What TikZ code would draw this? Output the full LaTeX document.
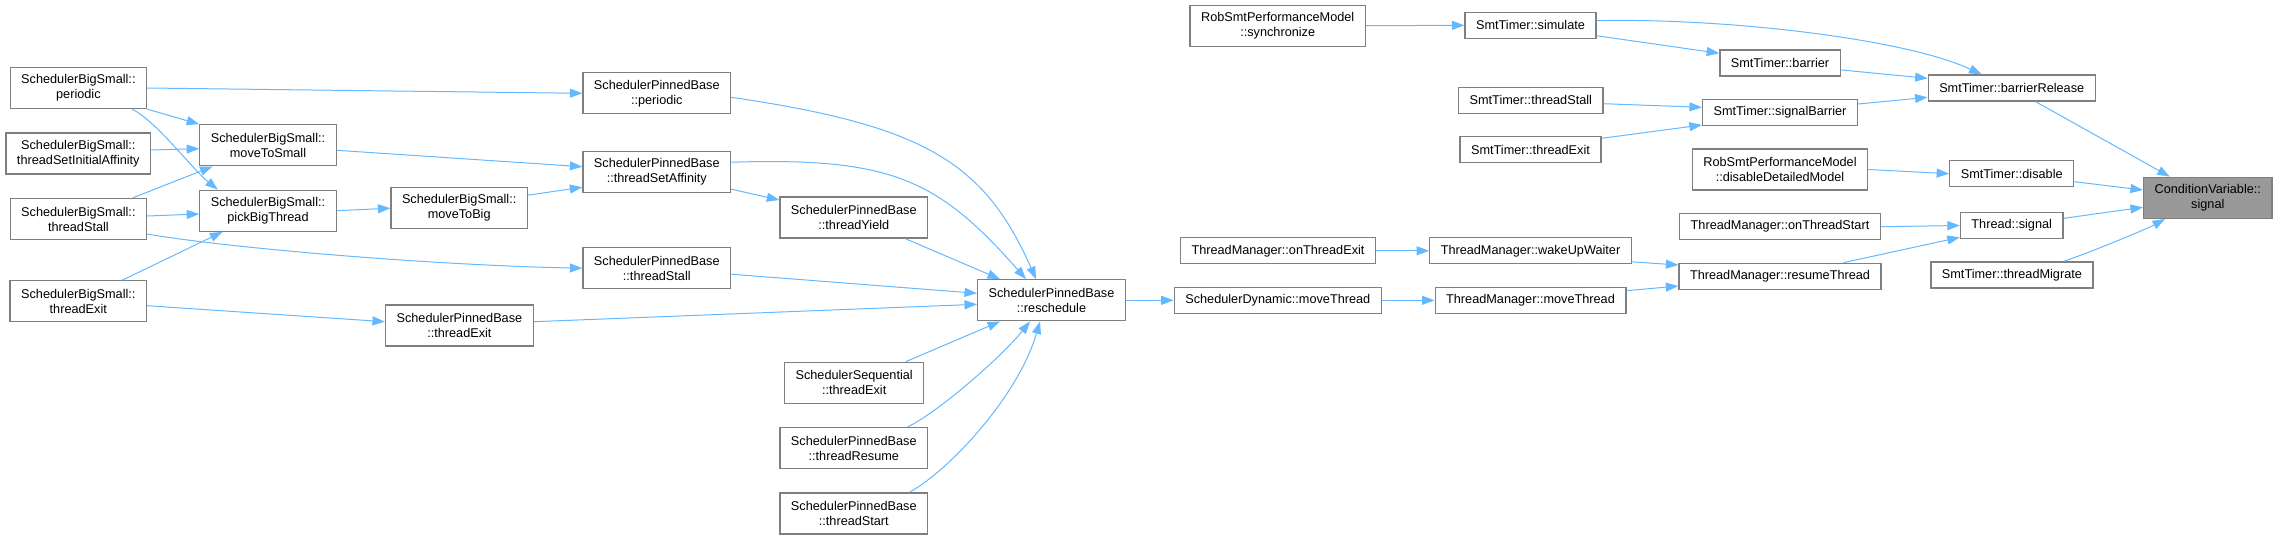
\documentclass[tikz,border=0pt]{standalone}
\usepackage{fontspec}
\setmainfont{Liberation Sans}
\usetikzlibrary{arrows.meta, positioning}
\definecolor{bordefn}{HTML}{7F7F7F}
\definecolor{flecha}{HTML}{63B8FF}
\definecolor{raizgris}{HTML}{999999}
\tikzset{
  func/.style={rectangle, draw=bordefn, line width=1.3pt, fill=white, minimum height=26pt,
               inner xsep=11pt, inner ysep=0pt, text centered, align=center,
               font=\fontsize{12.7}{15}\selectfont},
  funcdos/.style={func, minimum height=41pt},
  raiz/.style={funcdos, fill=raizgris},
  arrow/.style={line width=1pt, color=flecha, -{Triangle[length=12.5pt, width=9pt]}}
}
\begin{document}
\begin{tikzpicture}[x=1pt, y=-1pt]
  \useasboundingbox (0,0) rectangle (2277,539);
  % SchedulerBigSmall
  \node (bsper) [funcdos] at (78.4,88) {SchedulerBigSmall::\\periodic};
  \node (tsia) [funcdos] at (78.3,153.5) {SchedulerBigSmall::\\threadSetInitialAffinity};
  \node (bsts) [funcdos] at (78.4,219) {SchedulerBigSmall::\\threadStall};
  \node (bsex) [funcdos] at (78.3,301.3) {SchedulerBigSmall::\\threadExit};
  \node (m2s) [funcdos] at (268,145.3) {SchedulerBigSmall::\\moveToSmall};
  \node (pbt) [funcdos] at (268,210.7) {SchedulerBigSmall::\\pickBigThread};
  \node (m2b) [funcdos] at (459.2,208.2) {SchedulerBigSmall::\\moveToBig};
  % SchedulerPinnedBase
  \node (pbper) [funcdos] at (656.8,93.3) {SchedulerPinnedBase\\::periodic};
  \node (pbsa) [funcdos] at (656.8,172.2) {SchedulerPinnedBase\\::threadSetAffinity};
  \node (pbstall) [funcdos] at (656.8,268.2) {SchedulerPinnedBase\\::threadStall};
  \node (pbexit) [funcdos] at (459.4,325.5) {SchedulerPinnedBase\\::threadExit};
  \node (pbyield) [funcdos] at (853.8,217.5) {SchedulerPinnedBase\\::threadYield};
  \node (seqexit) [funcdos] at (854.2,382.8) {SchedulerSequential\\::threadExit};
  \node (pbresume) [funcdos] at (853.8,448.2) {SchedulerPinnedBase\\::threadResume};
  \node (pbstart) [funcdos] at (853.8,513.5) {SchedulerPinnedBase\\::threadStart};
  \node (resched) [funcdos] at (1051.5,300.3) {SchedulerPinnedBase\\::reschedule};
  % ThreadManager / SmtTimer
  \node (dynmove) [func] at (1277.8,300.3) {SchedulerDynamic::moveThread};
  \node (sync) [funcdos] at (1277.7,25.7) {RobSmtPerformanceModel\\::synchronize};
  \node (otexit) [func] at (1278,250.8) {ThreadManager::onThreadExit};
  \node (simulate) [func] at (1530.5,25.3) {SmtTimer::simulate};
  \node (tstall) [func] at (1530.8,100.3) {SmtTimer::threadStall};
  \node (texit) [func] at (1530.5,149.7) {SmtTimer::threadExit};
  \node (wake) [func] at (1530.5,250.8) {ThreadManager::wakeUpWaiter};
  \node (tmmove) [func] at (1530.5,300.3) {ThreadManager::moveThread};
  \node (barrier) [func] at (1780,62.9) {SmtTimer::barrier};
  \node (sigbar) [func] at (1780,112.3) {SmtTimer::signalBarrier};
  \node (ddm) [funcdos] at (1780,169.5) {RobSmtPerformanceModel\\::disableDetailedModel};
  \node (otstart) [func] at (1780,226.7) {ThreadManager::onThreadStart};
  \node (resume) [func] at (1780,276.3) {ThreadManager::resumeThread};
  \node (brel) [func] at (2011.7,88) {SmtTimer::barrierRelease};
  \node (disable) [func] at (2011.7,173.7) {SmtTimer::disable};
  \node (tsig) [func] at (2011.7,225.5) {Thread::signal};
  \node (migrate) [func] at (2011.9,275) {SmtTimer::threadMigrate};
  \node (cv) [raiz] at (2207.8,197.8) {ConditionVariable::\\signal};

  % left part
  \draw [arrow] (bsper.east) -- (pbper.west);
  \draw [arrow] (bsper.south east) -- (m2s.north west);
  \draw [arrow] ([xshift=-15pt]bsper.south east) .. controls +(25,13) and +(-25,-20) .. ([xshift=18.6pt]pbt.north west);
  \draw [arrow] ([yshift=3.5pt]tsia.east) -- ([yshift=-3.4pt]m2s.west);
  \draw [arrow] ([xshift=-14.5pt]bsts.north east) -- ([xshift=13.4pt]m2s.south west);
  \draw [arrow] ([yshift=3pt]bsts.east) -- ([yshift=-3.3pt]pbt.west);
  \draw [arrow] ([yshift=-15pt]bsts.east) .. controls +(80,14) and +(-150,-3) .. (pbstall.west);
  \draw [arrow] ([xshift=-24.8pt]bsex.north east) -- ([xshift=23.3pt]pbt.south west);
  \draw [arrow] ([yshift=-4.4pt]bsex.east) -- ([yshift=3.8pt]pbexit.west);
  \draw [arrow] ([yshift=-5pt]m2s.east) -- ([yshift=5.5pt]pbsa.west);
  \draw [arrow] (pbt.east) -- (m2b.west);
  \draw [arrow] ([yshift=13pt]m2b.east) -- ([yshift=-15pt]pbsa.west);
  % into reschedule
  \draw [arrow] ([yshift=-4pt]pbper.east) .. controls +(191,28) and +(-52,-118) .. ([xshift=59pt]resched.north west);
  \draw [arrow] ([yshift=10pt]pbsa.east) .. controls +(160,-5) and +(-88,-100) .. ([xshift=49pt]resched.north west);
  \draw [arrow] ([yshift=-17pt]pbsa.east) -- ([yshift=17.5pt]pbyield.west);
  \draw [arrow] ([xshift=-23pt]pbyield.south east) -- ([xshift=23pt]resched.north west);
  \draw [arrow] ([yshift=-6pt]pbstall.east) -- ([yshift=7pt]resched.west);
  \draw [arrow] ([yshift=3.8pt]pbexit.east) -- ([yshift=-4pt]resched.west);
  \draw [arrow] ([xshift=-18.7pt]seqexit.north east) -- ([xshift=23pt]resched.south west);
  \draw [arrow] ([xshift=-21pt]pbresume.north east) .. controls +(30,-14) and +(-28,35) .. ([xshift=53pt]resched.south west);
  \draw [arrow] ([xshift=-19pt]pbstart.north east) .. controls +(40,-22) and +(-22,75) .. ([xshift=63pt]resched.south west);
  % right part
  \draw [arrow] (resched.east) -- (dynmove.west);
  \draw [arrow] (dynmove.east) -- (tmmove.west);
  \draw [arrow] ([yshift=9.6pt]tmmove.east) -- ([yshift=-9.7pt]resume.west);
  \draw [arrow] (otexit.east) -- (wake.west);
  \draw [arrow] ([yshift=-11pt]wake.east) -- ([yshift=11.3pt]resume.west);
  \draw [arrow] (sync.east) -- (simulate.west);
  \draw [arrow] ([yshift=4.6pt]simulate.east) .. controls +(120,-3) and +(-80,-37) .. ([xshift=54pt]brel.north west);
  \draw [arrow] ([yshift=-10.4pt]simulate.east) -- ([yshift=9.6pt]barrier.west);
  \draw [arrow] ([yshift=-3.4pt]tstall.east) -- ([yshift=5pt]sigbar.west);
  \draw [arrow] ([yshift=11.4pt]texit.east) -- ([yshift=-12.7pt]sigbar.west);
  \draw [arrow] ([yshift=-7pt]barrier.east) -- ([yshift=9.7pt]brel.west);
  \draw [arrow] ([yshift=8.3pt]sigbar.east) -- ([yshift=-9.3pt]brel.west);
  \draw [arrow] ([xshift=108pt]brel.south west) -- ([xshift=26.8pt]cv.north west);
  \draw [arrow] (ddm.east) -- (disable.west);
  \draw [arrow] ([yshift=-8pt]disable.east) -- ([yshift=7.8pt]cv.west);
  \draw [arrow] (otstart.east) -- (tsig.west);
  \draw [arrow] ([xshift=-38.3pt]resume.north east) -- ([yshift=-11.8pt]tsig.west);
  \draw [arrow] ([yshift=7.2pt]tsig.east) -- ([yshift=-9.5pt]cv.west);
  \draw [arrow] ([xshift=-30pt]migrate.north east) .. controls +(20,-6.5) and +(-20,11) .. ([xshift=22pt]cv.south west);
\end{tikzpicture}
\end{document}
